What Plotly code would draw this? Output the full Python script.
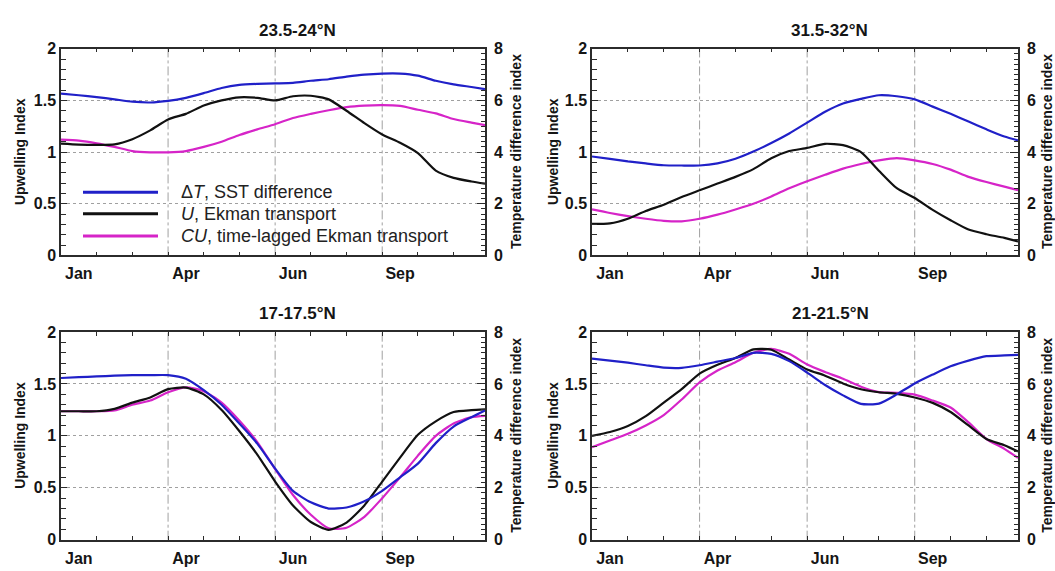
import plotly.graph_objects as go

W, H = 1055, 571
FONT = "Liberation Sans, Arial, sans-serif"
FRAME = "#2b2b2b"
BLUE = "#2020c8"
BLACK = "#111111"
MAGENTA = "#d624c8"

# time axis in months since 1 January (half-month sampling)
MONTHS = [0, 0.5, 1, 1.5, 2, 2.5, 3, 3.5, 4, 4.5, 5, 5.5, 6, 6.5, 7, 7.5,
          8, 8.5, 9, 9.5, 10, 10.5, 11, 11.5, 11.88]
X_END = 11.88

MONTH_TICKS = [0.5, 3.5, 6.5, 9.5]
MONTH_LABELS = ["Jan", "Apr", "Jun", "Sep"]
GRID_MONTHS = [3, 6, 9]

TITLES = ["23.5-24°N", "31.5-32°N", "17-17.5°N", "21-21.5°N"]

# Upwelling index U (Ekman transport), left axis
U_235 = [1.082, 1.073, 1.07, 1.075, 1.125, 1.21, 1.316, 1.37, 1.45, 1.50, 1.53, 1.525,
         1.50, 1.54, 1.545, 1.51, 1.40, 1.28, 1.17, 1.09, 0.99, 0.82, 0.75, 0.715, 0.694]
U_315 = [0.305, 0.31, 0.355, 0.43, 0.49, 0.565, 0.63, 0.695, 0.76, 0.835, 0.94, 1.01,
         1.04, 1.08, 1.067, 1.0, 0.82, 0.65, 0.555, 0.44, 0.34, 0.25, 0.205, 0.17, 0.134]
U_175 = [1.237, 1.237, 1.237, 1.26, 1.32, 1.37, 1.45, 1.465, 1.40, 1.25, 1.045, 0.82,
         0.56, 0.33, 0.17, 0.095, 0.165, 0.33, 0.56, 0.79, 1.01, 1.14, 1.23, 1.248, 1.255]
U_215 = [1.0, 1.037, 1.095, 1.19, 1.32, 1.45, 1.60, 1.685, 1.75, 1.833, 1.83, 1.735,
         1.64, 1.58, 1.505, 1.449, 1.42, 1.405, 1.37, 1.318, 1.23, 1.10, 0.97, 0.91, 0.85]

# Time-lagged Ekman transport CU, left axis
CU_235 = [1.12, 1.11, 1.085, 1.05, 1.01, 0.998, 0.998, 1.01, 1.05, 1.10, 1.165, 1.22,
          1.27, 1.33, 1.37, 1.405, 1.435, 1.45, 1.455, 1.447, 1.41, 1.375, 1.32, 1.285, 1.26]
CU_315 = [0.445, 0.41, 0.38, 0.355, 0.335, 0.33, 0.355, 0.395, 0.445, 0.50, 0.57, 0.65,
          0.717, 0.78, 0.84, 0.885, 0.92, 0.942, 0.92, 0.885, 0.83, 0.76, 0.71, 0.665, 0.631]
CU_175 = [1.237, 1.237, 1.237, 1.245, 1.30, 1.34, 1.42, 1.468, 1.43, 1.32, 1.145, 0.94,
          0.68, 0.43, 0.24, 0.11, 0.115, 0.22, 0.40, 0.60, 0.81, 1.0, 1.12, 1.18, 1.193]
CU_215 = [0.891, 0.955, 1.02, 1.10, 1.20, 1.35, 1.515, 1.63, 1.71, 1.80, 1.838, 1.79,
          1.687, 1.615, 1.55, 1.474, 1.422, 1.414, 1.397, 1.34, 1.273, 1.13, 0.97, 0.875, 0.788]

# SST difference index dT, right axis
DT_235 = [6.26, 6.2, 6.13, 6.04, 5.95, 5.92, 5.98, 6.1, 6.28, 6.48, 6.6, 6.64,
          6.66, 6.68, 6.76, 6.82, 6.92, 7.0, 7.04, 7.04, 6.96, 6.76, 6.62, 6.52, 6.44]
DT_315 = [3.83, 3.74, 3.64, 3.56, 3.49, 3.48, 3.48, 3.56, 3.74, 4.02, 4.35, 4.72,
          5.14, 5.56, 5.88, 6.06, 6.2, 6.16, 6.04, 5.76, 5.48, 5.18, 4.88, 4.6, 4.45]
DT_175 = [6.23, 6.26, 6.29, 6.32, 6.34, 6.34, 6.34, 6.2, 5.76, 5.2, 4.47, 3.7,
          2.74, 1.88, 1.44, 1.2, 1.24, 1.48, 1.88, 2.4, 2.93, 3.72, 4.36, 4.72, 4.98]
DT_215 = [6.98, 6.9, 6.82, 6.72, 6.63, 6.62, 6.72, 6.86, 7.0, 7.2, 7.16, 6.88,
          6.44, 5.96, 5.56, 5.23, 5.24, 5.6, 6.02, 6.36, 6.68, 6.9, 7.07, 7.1, 7.12]

U_SERIES = [U_235, U_315, U_175, U_215]
CU_SERIES = [CU_235, CU_315, CU_175, CU_215]
DT_SERIES = [DT_235, DT_315, DT_175, DT_215]

LEGEND_LABELS = ["Δ<i>T</i>, SST difference",
                 "<i>U</i>, Ekman transport",
                 "<i>CU</i>, time-lagged Ekman transport"]

# plot boxes in pixels: left, top, right, bottom
BOXES = [(61, 42, 485, 255), (592, 42, 1018, 255),
         (61, 334, 485, 548), (592, 334, 1018, 548)]
TITLE_POS = [(297, 23), (829, 23), (297, 315), (830, 315)]
LEFT_TITLE_X = [20, 553, 20, 553]
RIGHT_TITLE_X = [516, 1047, 516, 1047]


def px_x(v):
    return v / W


def px_y(v):
    return 1 - v / H


tick_font = dict(family=FONT, size=16, color="#151515", weight="bold")

fig = go.Figure()
layout = dict(
    width=W, height=H, autosize=False,
    margin=dict(l=0, r=0, t=0, b=0),
    paper_bgcolor="white", plot_bgcolor="white",
    showlegend=False,
    annotations=[], shapes=[],
)

for i in range(4):
    n = i + 1
    L, R = 2 * i + 1, 2 * i + 2
    xname = "x" if n == 1 else f"x{n}"
    yl = "y" if L == 1 else f"y{L}"
    yr = f"y{R}"
    left, top, right, bottom = BOXES[i]
    xdom = [px_x(left), px_x(right)]
    ydom = [px_y(bottom), px_y(top)]

    layout[f"xaxis{n}"] = dict(
        domain=xdom, anchor=yl, range=[0, X_END],
        showline=True, linecolor=FRAME, linewidth=1.5, mirror="allticks",
        tickmode="array", tickvals=MONTH_TICKS, ticktext=MONTH_LABELS,
        ticks="inside", ticklen=0, tickfont=tick_font, ticklabelstandoff=3,
        showgrid=False, zeroline=False,
        minor=dict(ticks="inside", tickmode="linear", tick0=0, dtick=1,
                   ticklen=4, tickcolor=FRAME, tickwidth=1, showgrid=False),
    )
    layout[f"yaxis{L}"] = dict(
        domain=ydom, anchor=xname, range=[0, 2],
        showline=True, linecolor=FRAME, linewidth=1.5, mirror=False,
        tickmode="array", tickvals=[0, 0.5, 1, 1.5, 2],
        ticktext=["0", "0.5", "1", "1.5", "2"],
        ticks="inside", ticklen=6, tickcolor=FRAME, tickwidth=1,
        tickfont=tick_font,
        showgrid=True, gridcolor="#a0a0a0", griddash="dot", gridwidth=1,
        zeroline=False,
        minor=dict(ticks="inside", tickmode="linear", tick0=0, dtick=0.1,
                   ticklen=5, tickcolor=FRAME, tickwidth=1, showgrid=False),
    )
    layout[f"yaxis{R}"] = dict(
        overlaying=yl, side="right", anchor=xname, range=[0, 8],
        showline=True, linecolor=FRAME, linewidth=1.5,
        tickmode="array", tickvals=[0, 2, 4, 6, 8],
        ticks="inside", ticklen=8, tickcolor=FRAME, tickwidth=1,
        tickfont=tick_font, ticklabelstandoff=4,
        showgrid=False, zeroline=False,
        minor=dict(ticks="inside", tickmode="linear", tick0=0, dtick=0.2,
                   ticklen=4, tickcolor=FRAME, tickwidth=1, showgrid=False),
    )

    # vertical season grid lines
    for m in GRID_MONTHS:
        layout["shapes"].append(dict(
            type="line", xref=xname, yref=f"{yl} domain",
            x0=m, x1=m, y0=0, y1=1, layer="below",
            line=dict(color="#a0a0a0", width=1, dash="dashdot"),
        ))

    fig.add_trace(go.Scatter(
        x=MONTHS, y=CU_SERIES[i], xaxis=xname, yaxis=yl, mode="lines",
        line=dict(color=MAGENTA, width=2.2, shape="spline", smoothing=0.6),
        name="CU"))
    fig.add_trace(go.Scatter(
        x=MONTHS, y=U_SERIES[i], xaxis=xname, yaxis=yl, mode="lines",
        line=dict(color=BLACK, width=2.2, shape="spline", smoothing=0.6),
        name="U"))
    fig.add_trace(go.Scatter(
        x=MONTHS, y=DT_SERIES[i], xaxis=xname, yaxis=yr, mode="lines",
        line=dict(color=BLUE, width=2.2, shape="spline", smoothing=0.6),
        name="dT"))

    # panel title
    tx, ty = TITLE_POS[i]
    layout["annotations"].append(dict(
        text=TITLES[i], xref="paper", yref="paper", x=px_x(tx), y=px_y(ty),
        xanchor="center", yanchor="middle", showarrow=False,
        font=dict(family=FONT, size=17, color="#151515", weight="bold"),
    ))
    # axis titles
    yc = px_y((top + bottom) / 2)
    layout["annotations"].append(dict(
        text="Upwelling Index", xref="paper", yref="paper",
        x=px_x(LEFT_TITLE_X[i]), y=yc, xanchor="center", yanchor="middle",
        textangle=-90, showarrow=False,
        font=dict(family=FONT, size=14, color="#151515", weight="bold"),
    ))
    layout["annotations"].append(dict(
        text="Temperature difference index", xref="paper", yref="paper",
        x=px_x(RIGHT_TITLE_X[i]), y=yc, xanchor="center", yanchor="middle",
        textangle=-90, showarrow=False,
        font=dict(family=FONT, size=14, color="#151515", weight="bold"),
    ))

# key inside the first panel
for label, color, ly in zip(LEGEND_LABELS, [BLUE, BLACK, MAGENTA], [190, 212, 235]):
    layout["shapes"].append(dict(
        type="line", xref="paper", yref="paper",
        x0=px_x(83), x1=px_x(158), y0=px_y(ly), y1=px_y(ly),
        line=dict(color=color, width=3),
    ))
    layout["annotations"].append(dict(
        text=label, xref="paper", yref="paper", x=px_x(179), y=px_y(ly),
        xanchor="left", yanchor="middle", showarrow=False,
        font=dict(family=FONT, size=18, color="#222222"),
    ))

fig.update_layout(**layout)
fig.write_html("out.html")
